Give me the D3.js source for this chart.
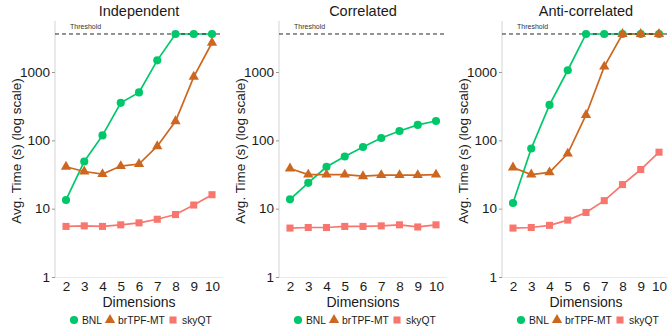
<!DOCTYPE html>
<html>
<head>
<meta charset="utf-8">
<script src="https://cdn.jsdelivr.net/npm/d3@7"></script>
<style>
  body { margin: 0; background: #fff; }
  svg text { font-family: "Liberation Sans", Arial, sans-serif; }
</style>
</head>
<body>
<div id="chart"></div>
<script>
// values
var dims = [2, 3, 4, 5, 6, 7, 8, 9, 10];
var panelTitles = ["Independent", "Correlated", "Anti-correlated"];
var seriesNames = ["BNL", "brTPF-MT", "skyQT"];
var threshold = 3600;
var yTicks = [1, 10, 100, 1000];

var indepBNL   = [13.4, 49, 118, 354, 503, 1480, 3600, 3600, 3600];
var indepBrTPF = [41, 35, 32, 42, 45, 82, 190, 850, 2680];
var indepSkyQT = [5.5, 5.6, 5.5, 5.8, 6.2, 7.0, 8.2, 11.3, 16];

var corrBNL    = [13.7, 23.9, 41, 58, 80, 108, 137, 168, 192];
var corrBrTPF  = [38.7, 31.5, 31.5, 31.5, 29.9, 31, 31, 31, 31.5];
var corrSkyQT  = [5.2, 5.3, 5.3, 5.5, 5.5, 5.6, 5.8, 5.4, 5.8];

var antiBNL    = [12.1, 76, 330, 1060, 3600, 3600, 3600, 3600, 3600];
var antiBrTPF  = [40, 31.6, 34, 64, 235, 1200, 3600, 3600, 3600];
var antiSkyQT  = [5.2, 5.3, 5.7, 6.8, 8.8, 13.1, 22.5, 37.4, 67];

var panelData = [
    [indepBNL, indepBrTPF, indepSkyQT],
    [corrBNL, corrBrTPF, corrSkyQT],
    [antiBNL, antiBrTPF, antiSkyQT]
];

var colors = ["#00C86A", "#CD671F", "#F8766D"];
var shapes = [d3.symbolCircle, d3.symbolTriangle, d3.symbolSquare];
var shapeSizes = [52, 46, 50];

var width = 667, height = 333;
var panelLeft = [55, 279, 502];
var panelWidth = 168;
var plotTop = 21, plotBottom = 277;
var font = "'Liberation Sans', Arial, sans-serif";

var svg = d3.select("#chart").append("svg")
    .attr("width", width)
    .attr("height", height);

var y = d3.scaleLog()
    .domain([1, 1000])
    .range([277, 72]);

panelTitles.forEach(function(title, p) {
    var left = panelLeft[p];
    var right = left + panelWidth;
    var cx = (left + right) / 2;

    var x = d3.scaleLinear()
        .domain([2, 10])
        .range([left + 11, right - 11]);

    var g = svg.append("g");

    // axis lines
    g.append("line")
        .attr("x1", left).attr("x2", left)
        .attr("y1", plotTop).attr("y2", plotBottom + 1)
        .attr("stroke", "#d4d4d4").attr("stroke-width", 1);
    g.append("line")
        .attr("x1", left).attr("x2", right)
        .attr("y1", plotBottom + 0.5).attr("y2", plotBottom + 0.5)
        .attr("stroke", "#e6e6e6").attr("stroke-width", 0.8);

    // y axis
    var yAxis = g.append("g")
        .attr("transform", "translate(" + left + ",0)")
        .call(d3.axisLeft(y).tickValues(yTicks).tickFormat(d3.format("d")).tickSize(3).tickPadding(2));
    yAxis.attr("font-family", font);
    yAxis.select(".domain").remove();
    yAxis.selectAll(".tick line").attr("stroke", "#999");
    yAxis.selectAll("text")
        .attr("font-size", "13.5px")
        .attr("fill", "#1a1a1a");

    // x axis
    var xAxis = g.append("g")
        .attr("transform", "translate(0," + (plotBottom + 1) + ")")
        .call(d3.axisBottom(x).tickValues(dims).tickFormat(d3.format("d")).tickSize(0).tickPadding(3));
    xAxis.attr("font-family", font);
    xAxis.select(".domain").remove();
    xAxis.selectAll("text")
        .attr("font-size", "13.5px")
        .attr("fill", "#1a1a1a");

    // titles
    g.append("text")
        .attr("x", cx).attr("y", 16)
        .attr("text-anchor", "middle")
        .attr("font-family", font)
        .attr("font-size", "14.5px")
        .attr("fill", "#1a1a1a")
        .text(title);

    g.append("text")
        .attr("x", cx).attr("y", 307)
        .attr("text-anchor", "middle")
        .attr("font-family", font)
        .attr("font-size", "14px")
        .attr("fill", "#1a1a1a")
        .text("Dimensions");

    g.append("text")
        .attr("transform", "translate(" + (left - 34) + ",151) rotate(-90)")
        .attr("text-anchor", "middle")
        .attr("font-family", font)
        .attr("font-size", "13.5px")
        .attr("fill", "#1a1a1a")
        .text("Avg. Time (s) (log scale)");

    var line = d3.line()
        .x(function(d, i) { return x(dims[i]); })
        .y(function(d) { return y(d); });

    // lines
    panelData[p].forEach(function(vals, s) {
        g.append("path")
            .datum(vals)
            .attr("fill", "none")
            .attr("stroke", colors[s])
            .attr("stroke-width", 1.7)
            .attr("d", line);
    });

    // threshold
    g.append("line")
        .attr("x1", left).attr("x2", right)
        .attr("y1", y(threshold)).attr("y2", y(threshold))
        .attr("stroke", "#111")
        .attr("stroke-width", 0.9)
        .attr("stroke-dasharray", "4,3");
    g.append("text")
        .attr("x", left + 15).attr("y", y(threshold) - 5)
        .attr("font-family", font)
        .attr("font-size", "7px")
        .attr("fill", "#333")
        .text("Threshold");

    // points
    panelData[p].forEach(function(vals, s) {
        g.selectAll(".pt" + s)
            .data(vals)
            .enter().append("path")
            .attr("class", "pt" + s)
            .attr("transform", function(d, i) { return "translate(" + x(dims[i]) + "," + y(d) + ")"; })
            .attr("d", d3.symbol().type(shapes[s]).size(shapeSizes[s]))
            .attr("fill", colors[s]);
    });

    // legend
    var legendItems = [
        {sym: -65, txt: -57},
        {sym: -29, txt: -21},
        {sym: 34, txt: 43}
    ];
    var lg = g.append("g").attr("transform", "translate(" + cx + ",320)");
    seriesNames.forEach(function(name, s) {
        lg.append("path")
            .attr("transform", "translate(" + legendItems[s].sym + ",0)")
            .attr("d", d3.symbol().type(shapes[s]).size(shapeSizes[s]))
            .attr("fill", colors[s]);
        lg.append("text")
            .attr("x", legendItems[s].txt)
            .attr("y", 4)
            .attr("font-family", font)
            .attr("font-size", "10.3px")
            .attr("fill", "#1a1a1a")
            .text(name);
    });
});
</script>
</body>
</html>
